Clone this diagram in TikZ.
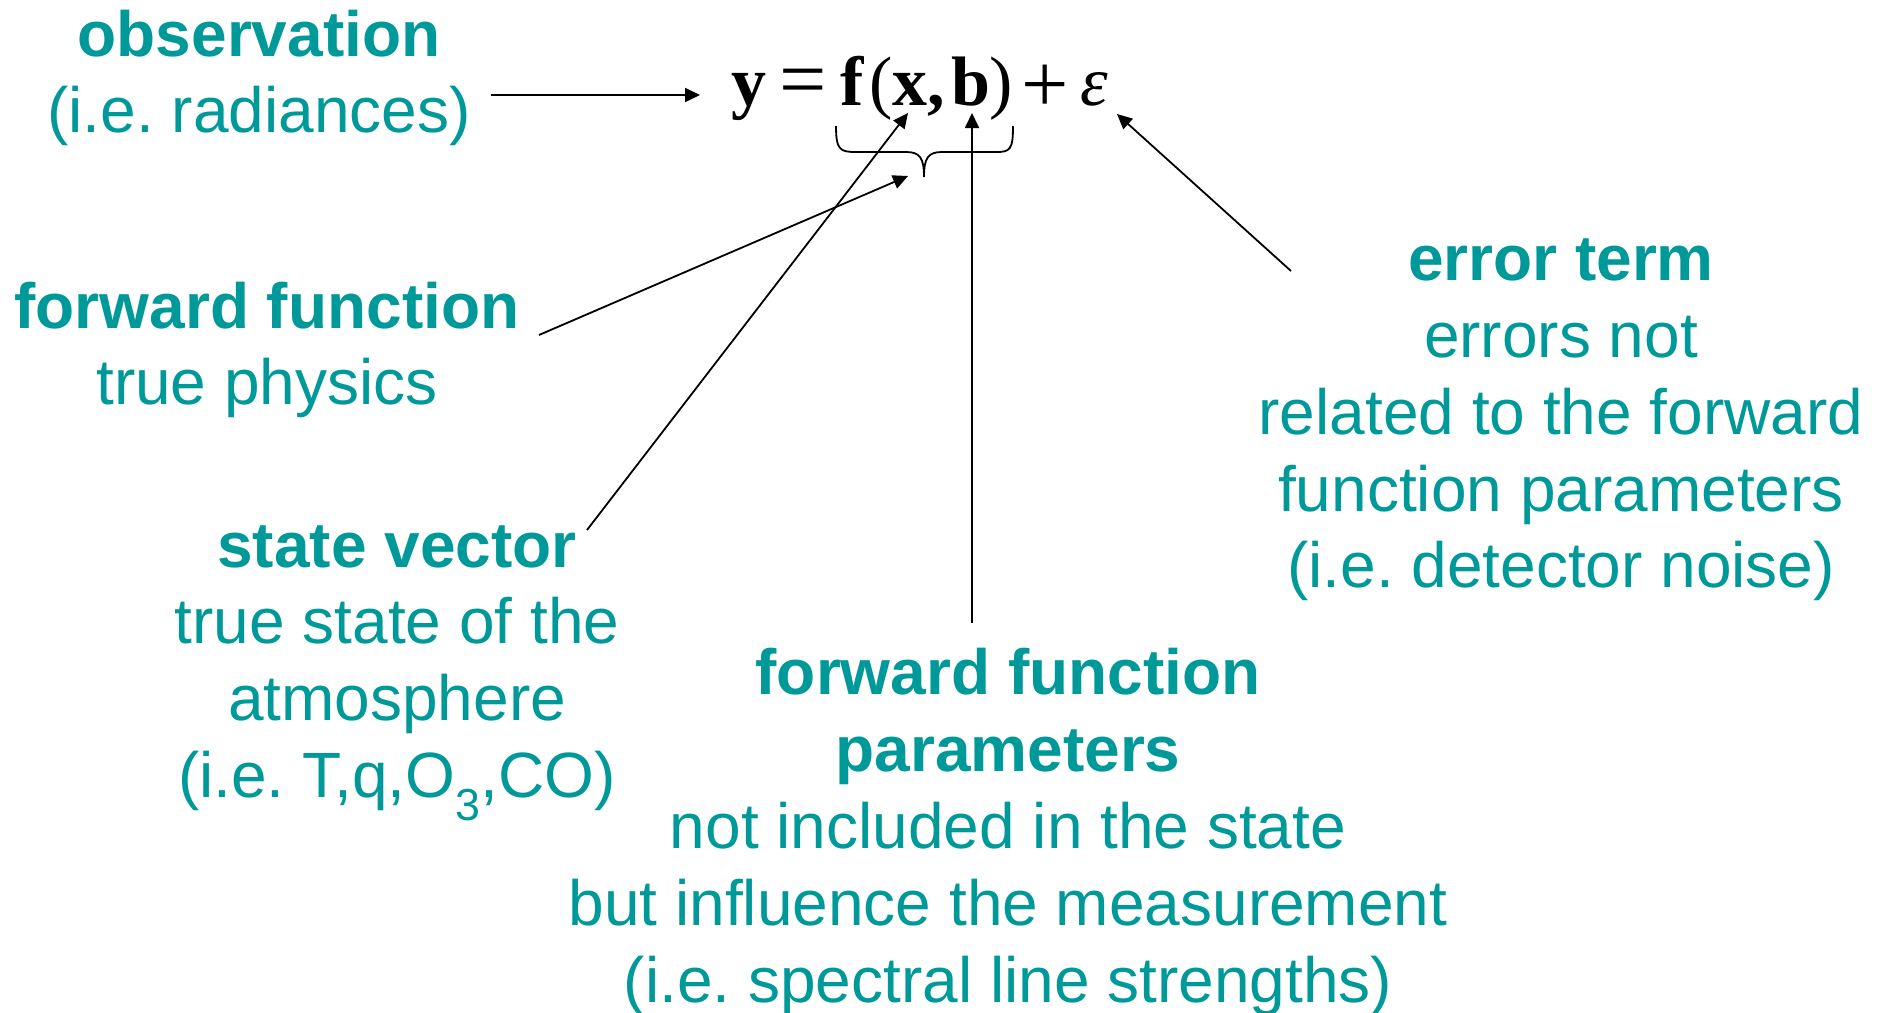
\documentclass[tikz,border=0pt]{standalone}
\usepackage{fontspec}
\setmainfont{Liberation Sans}
\newfontfamily\tnr{Liberation Serif}
\usetikzlibrary{arrows.meta}
\definecolor{tealc}{RGB}{0,153,153}
\tikzset{
  lbl/.style={text=tealc, align=center, inner sep=0pt, font=\frenchspacing\fontsize{64}{76.8}\selectfont},
  glyph/.style={inner sep=0pt, anchor=base, font=\tnr\fontsize{70}{80}\selectfont},
  opglyph/.style={inner sep=0pt, anchor=center, font=\tnr\fontsize{84}{90}\selectfont},
  conn/.style={line width=1.8pt, -{Triangle[length=15pt,width=14pt]}},
  brace/.style={line width=1.8pt}
}
\begin{document}
\begin{tikzpicture}[x=1pt,y=-1pt]
\useasboundingbox (0,0) rectangle (1887,1012);
\node[lbl] (obs) at (259,78) {\textbf{observation}\\(i.e. radiances)};
\node[lbl] (ff) at (267,350) {\textbf{forward function}\\true physics};
\node[lbl] (sv) at (397,673) {\textbf{state vector}\\true state of the\\atmosphere\\(i.e. T,q,O\textsubscript{3},CO)};
\node[lbl] (par) at (1008,832) {\textbf{forward function}\\\textbf{parameters}\\not included in the state\\but influence the measurement\\(i.e. spectral line strengths)};
\node[lbl] (err) at (1561,420) {\textbf{error term}\\errors not\\related to the forward\\function parameters\\(i.e. detector noise)};
% equation y = f(x,b) + epsilon
\node[glyph] (eqy) at (749,105) {\textbf{y}};
\node[opglyph] (eqeq) at (803,88) {=};
\node[glyph] (eqf) at (852,105) {\textbf{f}};
\node[glyph] (eqlp) at (881,105) {(};
\node[glyph] (eqx) at (910,105) {\textbf{x}};
\node[glyph] (eqc) at (936,105) {\textbf{,}};
\node[glyph] (eqb) at (971,105) {\textbf{b}};
\node[glyph] (eqrp) at (1001,105) {)};
\node[opglyph] (eqplus) at (1045,89) {+};
\node[glyph] (eqeps) at (1094,105) {\textit{ε}};
% brace
\draw[brace] (836,126) .. controls (836,150) and (840,152) .. (856,152) -- (906,152) .. controls (920,152) and (924,158) .. (924,177)
  .. controls (924,158) and (928,152) .. (942,152) -- (996,152) .. controls (1010,152) and (1013,150) .. (1013,126);
% connector ends
\coordinate (obsS) at (491,95);
\coordinate (obsT) at (700,95);
\coordinate (ffS) at (539,335);
\coordinate (ffT) at (908,176);
\coordinate (svS) at (587,530);
\coordinate (svT) at (908,113);
\coordinate (parS) at (972,623);
\coordinate (parT) at (972,113);
\coordinate (errS) at (1291,271);
\coordinate (errT) at (1117,114);
\draw[conn] (obsS) -- (obsT);
\draw[conn] (ffS) -- (ffT);
\draw[conn] (svS) -- (svT);
\draw[conn] (parS) -- (parT);
\draw[conn] (errS) -- (errT);
\end{tikzpicture}
\end{document}
